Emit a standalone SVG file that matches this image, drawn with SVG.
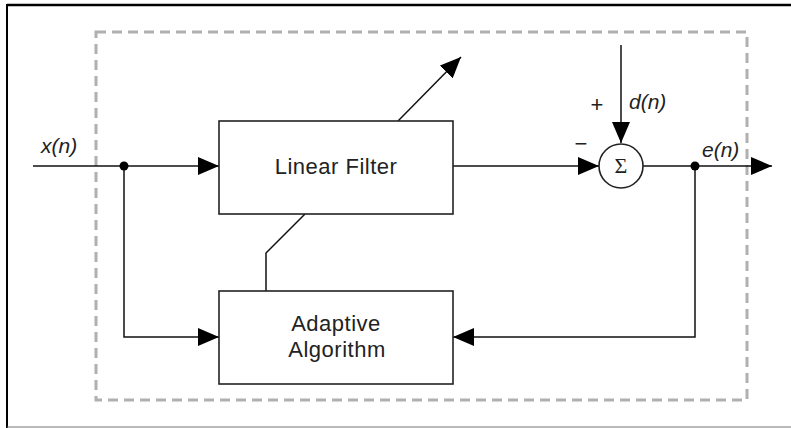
<svg xmlns="http://www.w3.org/2000/svg" width="791" height="428" viewBox="0 0 791 428">
<style>
.box{fill:#fff;stroke:#222;stroke-width:1.6}
.ln{fill:none;stroke:#111;stroke-width:1.5}
.lbl{font-family:"Liberation Sans",Arial,sans-serif;font-size:22px;fill:#222;text-anchor:middle;letter-spacing:0.5px}
.sig{font-family:"Liberation Sans",Arial,sans-serif;font-size:21px;font-style:italic;fill:#222}
.sgn{font-family:"Liberation Sans",Arial,sans-serif;font-size:22px;fill:#222;text-anchor:middle}
</style>
<defs>
<marker id="arr" markerUnits="userSpaceOnUse" markerWidth="22" markerHeight="18" refX="21" refY="9" orient="auto">
<path d="M0,0 L21,9 L0,18 z" fill="#000"/>
</marker>
</defs>
<rect width="791" height="428" fill="#fff"/>
<g id="frame">
<line x1="7" y1="5" x2="791" y2="5" stroke="#000" stroke-width="2.5"/>
<line x1="7" y1="4" x2="7" y2="428" stroke="#000" stroke-width="2"/>
<line x1="7" y1="427" x2="791" y2="427" stroke="#777" stroke-width="1.2"/>
</g>
<g id="boundary">
<rect x="96" y="32" width="651" height="368" fill="none" stroke="#b0b0b0" stroke-width="3" stroke-dasharray="10 6"/>
</g>
<g id="connectors">
<path class="ln" d="M33,166 H219" marker-end="url(#arr)"/>
<path class="ln" d="M124,166 V337 H219" marker-end="url(#arr)"/>
<path class="ln" d="M453,166 H599" marker-end="url(#arr)"/>
<path class="ln" d="M621,45 V143" marker-end="url(#arr)"/>
<path class="ln" d="M643,166 H772" marker-end="url(#arr)"/>
<path class="ln" d="M695,166 V337 H453" marker-end="url(#arr)"/>
<path class="ln" d="M266,291 V253 L305,214"/>
<path class="ln" d="M398,121 L461,57" marker-end="url(#arr)"/>
<circle cx="124" cy="166" r="4.5" fill="#000"/>
<circle cx="695" cy="166" r="4.5" fill="#000"/>
</g>
<g id="linear-filter">
<rect class="box" x="219" y="121" width="234" height="93"/>
<text class="lbl" x="336" y="174">Linear Filter</text>
</g>
<g id="adaptive-algorithm">
<rect class="box" x="219" y="291" width="234" height="93"/>
<text class="lbl" x="336" y="331">Adaptive</text>
<text class="lbl" x="337" y="357">Algorithm</text>
</g>
<g id="sum">
<circle cx="621" cy="166" r="22" fill="#fff" stroke="#222" stroke-width="1.6"/>
<text x="621" y="173" font-family="'Liberation Serif','Times New Roman',serif" font-size="22" fill="#222" text-anchor="middle">Σ</text>
</g>
<g id="labels">
<text class="sig" x="41" y="153">x(n)</text>
<text class="sig" x="629" y="109">d(n)</text>
<text class="sig" x="702" y="157">e(n)</text>
<text class="sgn" x="597" y="112">+</text>
<text class="sgn" x="581" y="151">−</text>
</g>
</svg>
